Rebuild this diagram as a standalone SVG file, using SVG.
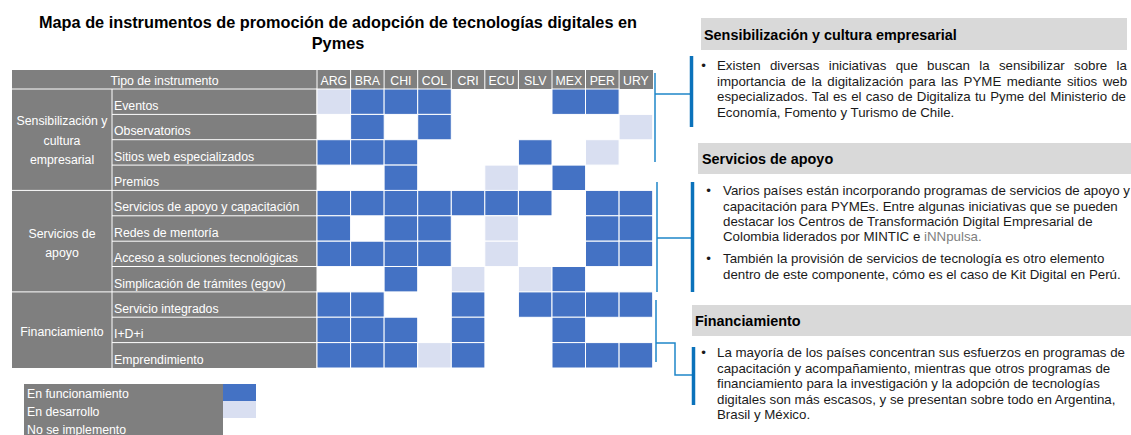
<svg xmlns="http://www.w3.org/2000/svg" width="1131" height="435" viewBox="0 0 1131 435">
<style>
.title{font-family:"Liberation Sans",Arial,sans-serif;font-weight:bold;font-size:16.3px;fill:#000;text-anchor:middle}
.cell{font-family:"Liberation Sans",Arial,sans-serif;font-size:12.3px;fill:#fff}
.mid{text-anchor:middle}
.g{fill:#7f7f7f}
.b{fill:#4472c4;stroke:#fff;stroke-width:1}
.l{fill:#d9dff1;stroke:#fff;stroke-width:1}
.sep{stroke:#fff;stroke-width:1;fill:none}
.hd{fill:#d9d9d9}
.hdt{font-family:"Liberation Sans",Arial,sans-serif;font-weight:bold;font-size:14.4px;fill:#000}
.body{font-family:"Liberation Sans",Arial,sans-serif;font-size:13.3px;fill:#1a1a1a}
.thin{stroke:#1f87c9;stroke-width:1.5;fill:none}
.thick{stroke:#0b72bb;stroke-width:3.5;fill:none}
</style>

<g id="title">
<text class="title" x="338" y="28">Mapa de instrumentos de promoción de adopción de tecnologías digitales en</text>
<text class="title" x="338" y="49">Pymes</text>
</g>

<g id="table">
<rect class="g" x="12" y="70" width="641" height="19"/>
<rect class="g" x="12" y="89" width="305" height="279"/>
<path class="sep" d="M12 89H317 M112 89V368 M112 114.4H317 M112 139.7H317 M112 165.1H317 M12 190.4H317 M112 215.8H317 M112 241.2H317 M112 266.5H317 M12 291.9H317 M112 317.2H317 M112 342.6H317 M317 70V368 M350.6 70V89 M384.1 70V89 M417.7 70V89 M451.3 70V89 M484.8 70V89 M518.4 70V89 M552 70V89 M585.5 70V89 M619.1 70V89"/>
<text class="cell mid" x="164.5" y="85">Tipo de instrumento</text>
<text class="cell mid" x="333.8" y="85">ARG</text>
<text class="cell mid" x="367.4" y="85">BRA</text>
<text class="cell mid" x="400.9" y="85">CHI</text>
<text class="cell mid" x="434.5" y="85">COL</text>
<text class="cell mid" x="468.1" y="85">CRI</text>
<text class="cell mid" x="501.6" y="85">ECU</text>
<text class="cell mid" x="535.2" y="85">SLV</text>
<text class="cell mid" x="568.8" y="85">MEX</text>
<text class="cell mid" x="602.3" y="85">PER</text>
<text class="cell mid" x="635.9" y="85">URY</text>

<g id="cat-sensibilizacion">
<text class="cell mid" x="62" y="125">Sensibilización y</text>
<text class="cell mid" x="62" y="145">cultura</text>
<text class="cell mid" x="62" y="164">empresarial</text>
<text class="cell" x="114" y="110">Eventos</text>
<text class="cell" x="114" y="135.4">Observatorios</text>
<text class="cell" x="114" y="160.7">Sitios web especializados</text>
<text class="cell" x="114" y="186.1">Premios</text>
</g>
<g id="cat-servicios">
<text class="cell mid" x="62" y="238">Servicios de</text>
<text class="cell mid" x="62" y="257">apoyo</text>
<text class="cell" x="114" y="211.4">Servicios de apoyo y capacitación</text>
<text class="cell" x="114" y="236.8">Redes de mentoría</text>
<text class="cell" x="114" y="262.2">Acceso a soluciones tecnológicas</text>
<text class="cell" x="114" y="287.5">Simplicación de trámites (egov)</text>
</g>
<g id="cat-financiamiento">
<text class="cell mid" x="62" y="336">Financiamiento</text>
<text class="cell" x="114" y="312.9">Servicio integrados</text>
<text class="cell" x="114" y="338.2">I+D+i</text>
<text class="cell" x="114" y="363.6">Emprendimiento</text>
</g>

<g id="grid">
<rect class="l" x="317" y="89" width="33.6" height="25.4"/>
<rect class="b" x="350.6" y="89" width="33.6" height="25.4"/>
<rect class="b" x="384.1" y="89" width="33.6" height="25.4"/>
<rect class="b" x="417.7" y="89" width="33.6" height="25.4"/>
<rect class="b" x="552" y="89" width="33.6" height="25.4"/>
<rect class="b" x="585.5" y="89" width="33.6" height="25.4"/>
<rect class="b" x="350.6" y="114.4" width="33.6" height="25.4"/>
<rect class="b" x="417.7" y="114.4" width="33.6" height="25.4"/>
<rect class="l" x="619.1" y="114.4" width="33.6" height="25.4"/>
<rect class="b" x="317" y="139.7" width="33.6" height="25.4"/>
<rect class="b" x="350.6" y="139.7" width="33.6" height="25.4"/>
<rect class="b" x="384.1" y="139.7" width="33.6" height="25.4"/>
<rect class="b" x="518.4" y="139.7" width="33.6" height="25.4"/>
<rect class="l" x="585.5" y="139.7" width="33.6" height="25.4"/>
<rect class="b" x="384.1" y="165.1" width="33.6" height="25.4"/>
<rect class="l" x="484.8" y="165.1" width="33.6" height="25.4"/>
<rect class="b" x="552" y="165.1" width="33.6" height="25.4"/>
<rect class="b" x="317" y="190.4" width="33.6" height="25.4"/>
<rect class="b" x="350.6" y="190.4" width="33.6" height="25.4"/>
<rect class="b" x="384.1" y="190.4" width="33.6" height="25.4"/>
<rect class="b" x="417.7" y="190.4" width="33.6" height="25.4"/>
<rect class="b" x="451.3" y="190.4" width="33.6" height="25.4"/>
<rect class="b" x="484.8" y="190.4" width="33.6" height="25.4"/>
<rect class="b" x="518.4" y="190.4" width="33.6" height="25.4"/>
<rect class="b" x="585.5" y="190.4" width="33.6" height="25.4"/>
<rect class="b" x="619.1" y="190.4" width="33.6" height="25.4"/>
<rect class="b" x="317" y="215.8" width="33.6" height="25.4"/>
<rect class="b" x="384.1" y="215.8" width="33.6" height="25.4"/>
<rect class="b" x="417.7" y="215.8" width="33.6" height="25.4"/>
<rect class="l" x="484.8" y="215.8" width="33.6" height="25.4"/>
<rect class="b" x="585.5" y="215.8" width="33.6" height="25.4"/>
<rect class="b" x="619.1" y="215.8" width="33.6" height="25.4"/>
<rect class="b" x="317" y="241.2" width="33.6" height="25.4"/>
<rect class="b" x="350.6" y="241.2" width="33.6" height="25.4"/>
<rect class="b" x="384.1" y="241.2" width="33.6" height="25.4"/>
<rect class="b" x="417.7" y="241.2" width="33.6" height="25.4"/>
<rect class="l" x="484.8" y="241.2" width="33.6" height="25.4"/>
<rect class="b" x="585.5" y="241.2" width="33.6" height="25.4"/>
<rect class="b" x="619.1" y="241.2" width="33.6" height="25.4"/>
<rect class="b" x="384.1" y="266.5" width="33.6" height="25.4"/>
<rect class="l" x="451.3" y="266.5" width="33.6" height="25.4"/>
<rect class="l" x="518.4" y="266.5" width="33.6" height="25.4"/>
<rect class="b" x="552" y="266.5" width="33.6" height="25.4"/>
<rect class="b" x="317" y="291.9" width="33.6" height="25.4"/>
<rect class="b" x="350.6" y="291.9" width="33.6" height="25.4"/>
<rect class="b" x="451.3" y="291.9" width="33.6" height="25.4"/>
<rect class="b" x="518.4" y="291.9" width="33.6" height="25.4"/>
<rect class="b" x="552" y="291.9" width="33.6" height="25.4"/>
<rect class="b" x="585.5" y="291.9" width="33.6" height="25.4"/>
<rect class="b" x="619.1" y="291.9" width="33.6" height="25.4"/>
<rect class="b" x="317" y="317.2" width="33.6" height="25.4"/>
<rect class="b" x="350.6" y="317.2" width="33.6" height="25.4"/>
<rect class="b" x="384.1" y="317.2" width="33.6" height="25.4"/>
<rect class="b" x="451.3" y="317.2" width="33.6" height="25.4"/>
<rect class="b" x="552" y="317.2" width="33.6" height="25.4"/>
<rect class="b" x="317" y="342.6" width="33.6" height="25.4"/>
<rect class="b" x="350.6" y="342.6" width="33.6" height="25.4"/>
<rect class="b" x="384.1" y="342.6" width="33.6" height="25.4"/>
<rect class="l" x="417.7" y="342.6" width="33.6" height="25.4"/>
<rect class="b" x="451.3" y="342.6" width="33.6" height="25.4"/>
<rect class="b" x="552" y="342.6" width="33.6" height="25.4"/>
<rect class="b" x="585.5" y="342.6" width="33.6" height="25.4"/>
<rect class="b" x="619.1" y="342.6" width="33.6" height="25.4"/>
</g>
</g>

<g id="legend">
<rect class="g" x="24" y="384" width="199" height="52"/>
<rect class="b" x="223" y="384" width="33" height="17" style="stroke:none"/>
<rect class="l" x="223" y="401" width="33" height="17" style="stroke:none"/>
<text class="cell" x="27" y="398">En funcionamiento</text>
<text class="cell" x="27" y="416">En desarrollo</text>
<text class="cell" x="27" y="434">No se implemento</text>
</g>

<g id="panel-sensibilizacion">
<rect class="hd" x="701" y="18" width="426" height="32"/>
<text class="hdt" x="704" y="40">Sensibilización y cultura empresarial</text>
<text class="body" x="703.5" y="70" text-anchor="middle">•</text>
<text class="body" x="717" y="70" word-spacing="5.6">Existen diversas iniciativas que buscan la sensibilizar sobre la</text>
<text class="body" x="717" y="85.5" word-spacing="1.8">importancia de la digitalización para las PYME mediante sitios web</text>
<text class="body" x="717" y="101" word-spacing="0.45">especializados. Tal es el caso de Digitaliza tu Pyme del Ministerio de</text>
<text class="body" x="717" y="116.5">Economía, Fomento y Turismo de Chile.</text>
</g>

<g id="panel-servicios">
<rect class="hd" x="698" y="143" width="433" height="31"/>
<text class="hdt" x="702" y="164">Servicios de apoyo</text>
<text class="body" x="708.5" y="195" text-anchor="middle">•</text>
<text class="body" x="723" y="195">Varios países están incorporando programas de servicios de apoyo y</text>
<text class="body" x="723" y="210.5">capacitación para PYMEs. Entre algunas iniciativas que se pueden</text>
<text class="body" x="723" y="226">destacar los Centros de Transformación Digital Empresarial de</text>
<text class="body" x="723" y="241">Colombia liderados por MINTIC e <tspan fill="#808080">iNNpulsa.</tspan></text>
<text class="body" x="708.5" y="263" text-anchor="middle">•</text>
<text class="body" x="723" y="263">También la provisión de servicios de tecnología es otro elemento</text>
<text class="body" x="723" y="279">dentro de este componente, cómo es el caso de Kit Digital en Perú.</text>
</g>

<g id="panel-financiamiento">
<rect class="hd" x="692" y="305" width="439" height="31"/>
<text class="hdt" x="695" y="326">Financiamiento</text>
<text class="body" x="703.5" y="357" text-anchor="middle">•</text>
<text class="body" x="717" y="357">La mayoría de los países concentran sus esfuerzos en programas de</text>
<text class="body" x="717" y="372.5">capacitación y acompañamiento, mientras que otros programas de</text>
<text class="body" x="717" y="388">financiamiento para la investigación y la adopción de tecnologías</text>
<text class="body" x="717" y="403.5">digitales son más escasos, y se presentan sobre todo en Argentina,</text>
<text class="body" x="717" y="419">Brasil y México.</text>
</g>

<g id="connectors">
<path class="thin" d="M655 73V162 M655 94H690"/>
<path class="thick" d="M691.5 56V127"/>
<path class="thin" d="M657 182V292 M657 238H692"/>
<path class="thick" d="M692.5 182V292"/>
<path class="thin" d="M656 300V362 M656 343H675V375H693"/>
<path class="thick" d="M693.5 347V405"/>
</g>
</svg>
